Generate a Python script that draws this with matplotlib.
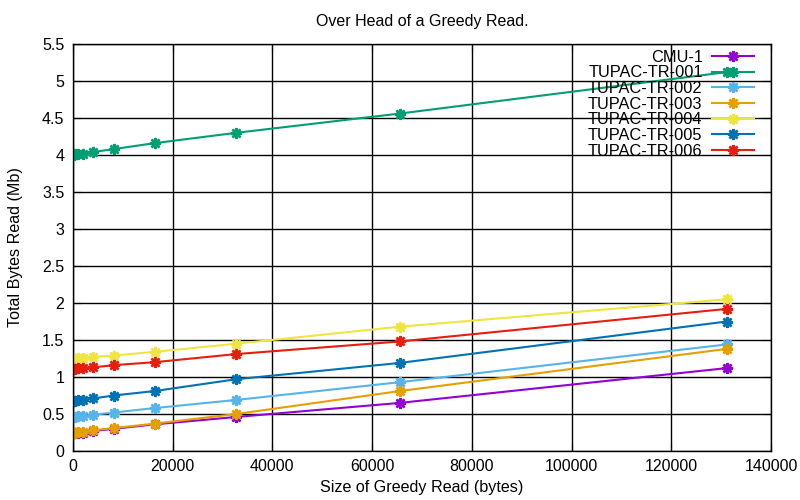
import matplotlib
matplotlib.use("Agg")
import matplotlib.pyplot as plt
from matplotlib.ticker import FuncFormatter, MultipleLocator

plt.rcParams['font.family'] = ['Liberation Sans', 'DejaVu Sans']

read_sizes = [128, 256, 512, 1024, 2048, 4096, 8192, 16384, 32768, 65536, 131072]

cmu_1 =        [0.24, 0.24, 0.24, 0.25, 0.25, 0.27, 0.30, 0.36, 0.46, 0.65, 1.12]
tupac_tr_001 = [4.00, 4.00, 4.01, 4.01, 4.02, 4.04, 4.08, 4.16, 4.30, 4.56, 5.12]
tupac_tr_002 = [0.46, 0.46, 0.46, 0.47, 0.47, 0.49, 0.52, 0.58, 0.69, 0.93, 1.44]
tupac_tr_003 = [0.25, 0.25, 0.25, 0.26, 0.26, 0.28, 0.31, 0.37, 0.50, 0.81, 1.38]
tupac_tr_004 = [1.25, 1.25, 1.25, 1.26, 1.26, 1.27, 1.29, 1.34, 1.45, 1.68, 2.05]
tupac_tr_005 = [0.68, 0.68, 0.68, 0.69, 0.69, 0.71, 0.75, 0.81, 0.97, 1.19, 1.75]
tupac_tr_006 = [1.11, 1.11, 1.11, 1.12, 1.12, 1.13, 1.16, 1.20, 1.31, 1.48, 1.92]

series = [
    ("CMU-1", cmu_1, "#9400d3"),
    ("TUPAC-TR-001", tupac_tr_001, "#009e73"),
    ("TUPAC-TR-002", tupac_tr_002, "#56b4e9"),
    ("TUPAC-TR-003", tupac_tr_003, "#e69f00"),
    ("TUPAC-TR-004", tupac_tr_004, "#f0e442"),
    ("TUPAC-TR-005", tupac_tr_005, "#0072b2"),
    ("TUPAC-TR-006", tupac_tr_006, "#e51e10"),
]

fig = plt.figure(figsize=(8, 5), dpi=100)
ax = fig.add_axes([0.091, 0.098, 0.873, 0.814])

ast = (8, 2, 0)
for name, vals, col in series:
    ax.plot(read_sizes, vals, color=col, lw=1.5, marker=ast, ms=8, mew=1.8,
            label=name)

ax.set_xlim(0, 140000)
ax.set_ylim(0, 5.5)
ax.xaxis.set_major_locator(MultipleLocator(20000))
ax.yaxis.set_major_locator(MultipleLocator(0.5))
ax.yaxis.set_major_formatter(FuncFormatter(lambda v, p: ('%g' % v)))
ax.xaxis.set_major_formatter(FuncFormatter(lambda v, p: ('%d' % v)))
ax.grid(True, color='black', lw=1)
ax.set_axisbelow(True)
ax.tick_params(direction='in', top=True, right=True, labelsize=11.5, length=6,
               colors='black', pad=6)
for s in ax.spines.values():
    s.set_linewidth(1)
    s.set_color('black')

ax.set_title("Over Head of a Greedy Read.", fontsize=11.5, pad=13)
ax.set_xlabel("Size of Greedy Read (bytes)", fontsize=11.6, labelpad=4)
ax.set_ylabel("Total Bytes Read (Mb)", fontsize=11.6, labelpad=14)

leg = ax.legend(loc='upper right', frameon=False, markerfirst=False,
                fontsize=11.8, labelspacing=0.04, handlelength=2.55,
                handletextpad=0.6, borderaxespad=0.0,
                bbox_to_anchor=(0.985, 1.002))
for col in leg._legend_handle_box.get_children():
    col.align = "right"

fig.savefig("out.png", dpi=100)
